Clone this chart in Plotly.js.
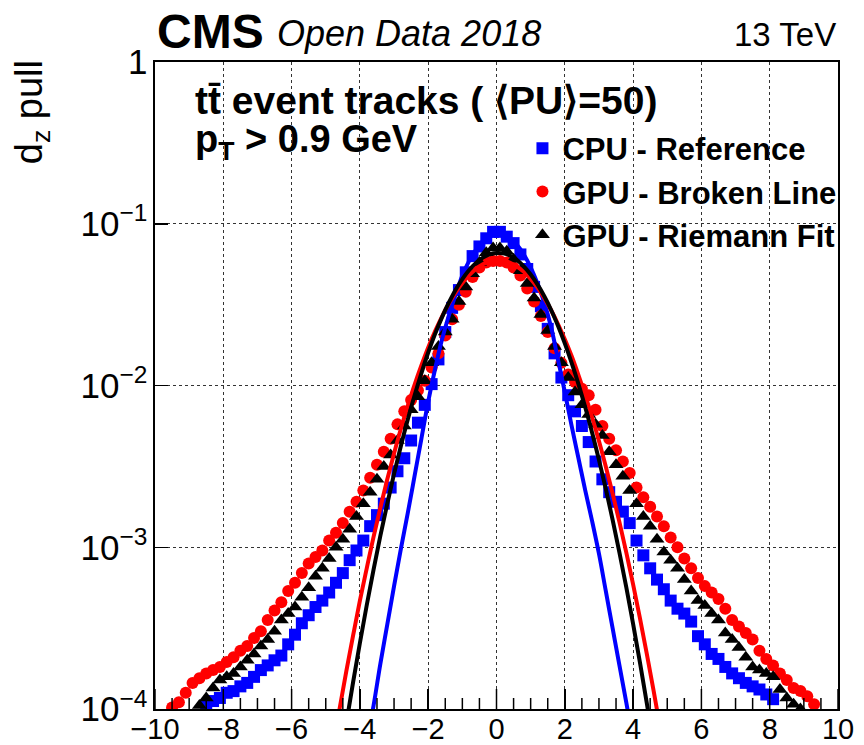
<!DOCTYPE html>
<html>
<head>
<meta charset="utf-8">
<script src="https://cdn.plot.ly/plotly-3.0.1.min.js"></script>
<style>html,body{margin:0;padding:0;background:#fff;}#chart{width:864px;height:745px;}</style>
</head>
<body>
<div id="chart"></div>
<script>
// Bin centres of the d_z pull histograms (width 0.2 from -10 to 10)
var binCenters = [-9.9,-9.7,-9.5,-9.3,-9.1,-8.9,-8.7,-8.5,-8.3,-8.1,-7.9,-7.7,-7.5,-7.3,-7.1,-6.9,-6.7,-6.5,-6.3,-6.1,
  -5.9,-5.7,-5.5,-5.3,-5.1,-4.9,-4.7,-4.5,-4.3,-4.1,-3.9,-3.7,-3.5,-3.3,-3.1,-2.9,-2.7,-2.5,-2.3,-2.1,
  -1.9,-1.7,-1.5,-1.3,-1.1,-0.9,-0.7,-0.5,-0.3,-0.1,0.1,0.3,0.5,0.7,0.9,1.1,1.3,1.5,1.7,1.9,
  2.1,2.3,2.5,2.7,2.9,3.1,3.3,3.5,3.7,3.9,4.1,4.3,4.5,4.7,4.9,5.1,5.3,5.5,5.7,5.9,
  6.1,6.3,6.5,6.7,6.9,7.1,7.3,7.5,7.7,7.9,8.1,8.3,8.5,8.7,8.9,9.1,9.3,9.5,9.7,9.9];

// CPU - Reference (blue squares)
var cpuReference = [null,null,null,null,null,null,null,1.05e-4,1.12e-4,1.17e-4,1.26e-4,1.29e-4,1.38e-4,1.45e-4,1.58e-4,1.74e-4,1.86e-4,2.00e-4,2.14e-4,2.51e-4,
  2.88e-4,3.39e-4,3.80e-4,4.27e-4,4.68e-4,5.25e-4,6.03e-4,6.92e-4,8.32e-4,9.55e-4,1.10e-3,1.35e-3,1.58e-3,1.86e-3,2.34e-3,2.95e-3,3.55e-3,4.57e-3,5.89e-3,7.59e-3,
  1.02e-2,1.45e-2,2.14e-2,3.02e-2,3.89e-2,5.01e-2,6.31e-2,7.24e-2,8.13e-2,8.91e-2,8.91e-2,8.32e-2,7.59e-2,6.46e-2,5.25e-2,4.07e-2,3.09e-2,2.24e-2,1.58e-2,1.12e-2,
  8.71e-3,6.92e-3,5.62e-3,4.47e-3,3.39e-3,2.63e-3,2.19e-3,1.91e-3,1.66e-3,1.41e-3,1.10e-3,8.91e-4,7.41e-4,6.31e-4,5.50e-4,4.68e-4,4.17e-4,3.89e-4,3.47e-4,2.82e-4,
  2.51e-4,2.19e-4,2.04e-4,1.82e-4,1.66e-4,1.55e-4,1.45e-4,1.38e-4,1.32e-4,1.23e-4,1.15e-4,null,null,null,null,null,null,null,null,null];

// GPU - Broken Line (red circles)
var gpuBrokenLine = [null,null,1.02e-4,1.10e-4,1.26e-4,1.45e-4,1.55e-4,1.66e-4,1.74e-4,1.82e-4,1.95e-4,2.09e-4,2.29e-4,2.45e-4,2.75e-4,3.02e-4,3.55e-4,4.07e-4,4.57e-4,5.37e-4,
  6.03e-4,6.92e-4,7.94e-4,8.71e-4,9.55e-4,1.10e-3,1.23e-3,1.41e-3,1.66e-3,1.91e-3,2.24e-3,2.69e-3,3.24e-3,3.89e-3,4.68e-3,5.75e-3,6.92e-3,8.13e-3,9.33e-3,1.07e-2,
  1.29e-2,1.58e-2,2.04e-2,2.57e-2,3.16e-2,3.80e-2,4.68e-2,5.37e-2,5.75e-2,5.89e-2,5.89e-2,5.75e-2,5.37e-2,4.79e-2,3.98e-2,3.31e-2,2.69e-2,2.14e-2,1.70e-2,1.38e-2,
  1.17e-2,1.05e-2,9.55e-3,8.71e-3,7.08e-3,5.62e-3,4.68e-3,3.98e-3,3.39e-3,2.88e-3,2.34e-3,2.04e-3,1.78e-3,1.55e-3,1.35e-3,1.15e-3,1.00e-3,8.51e-4,7.41e-4,6.46e-4,
  5.75e-4,5.25e-4,4.79e-4,4.17e-4,3.55e-4,3.24e-4,2.95e-4,2.69e-4,2.29e-4,2.04e-4,1.86e-4,1.66e-4,1.51e-4,1.35e-4,1.29e-4,1.20e-4,1.07e-4,null,null,null];

// GPU - Riemann Fit (black triangles)
var gpuRiemannFit = [null,null,null,null,null,null,1.05e-4,1.17e-4,1.35e-4,1.51e-4,1.58e-4,1.66e-4,1.82e-4,2.00e-4,2.19e-4,2.45e-4,2.69e-4,3.02e-4,3.55e-4,3.89e-4,
  4.27e-4,4.90e-4,5.62e-4,6.61e-4,7.41e-4,8.51e-4,1.00e-3,1.12e-3,1.29e-3,1.55e-3,1.86e-3,2.19e-3,2.63e-3,3.16e-3,3.72e-3,4.57e-3,5.62e-3,7.08e-3,8.51e-3,1.07e-2,
  1.38e-2,1.74e-2,2.14e-2,2.57e-2,3.31e-2,4.07e-2,4.90e-2,5.75e-2,6.61e-2,7.08e-2,7.08e-2,6.76e-2,6.03e-2,5.13e-2,4.27e-2,3.47e-2,2.75e-2,2.19e-2,1.74e-2,1.38e-2,
  1.12e-2,9.12e-3,7.59e-3,6.61e-3,5.75e-3,4.90e-3,3.89e-3,3.24e-3,2.75e-3,2.24e-3,1.86e-3,1.55e-3,1.35e-3,1.12e-3,9.33e-4,8.32e-4,7.41e-4,6.31e-4,5.37e-4,4.68e-4,
  4.37e-4,3.89e-4,3.55e-4,2.95e-4,2.69e-4,2.40e-4,2.09e-4,1.82e-4,1.74e-4,1.66e-4,1.58e-4,1.32e-4,1.17e-4,1.07e-4,1.00e-4,null,null,null,null,null];

// Fitted curves
var cpuFitX = [-4.0,-3.8,-3.6,-3.4,-3.2,-3.0,-2.8,-2.6,-2.4,-2.2,-2.0,-1.8,-1.6,-1.4,-1.2,-1.0,-0.8,-0.6,-0.4,-0.2,0,
  0.2,0.4,0.6,0.8,1.0,1.2,1.4,1.6,1.8,2.0,2.2,2.4,2.6,2.8,3.0,3.2,3.4,3.6,3.8,4.0];
var cpuFitY = [3.16e-5,6.31e-5,1.05e-4,1.91e-4,3.31e-4,5.75e-4,9.77e-4,1.62e-3,2.75e-3,4.68e-3,7.94e-3,1.26e-2,1.91e-2,2.69e-2,3.63e-2,4.79e-2,5.89e-2,6.92e-2,7.76e-2,8.32e-2,8.51e-2,
  8.51e-2,8.13e-2,7.41e-2,6.46e-2,5.37e-2,4.27e-2,3.24e-2,2.29e-2,1.45e-2,9.12e-3,5.62e-3,3.55e-3,2.24e-3,1.45e-3,9.12e-4,5.37e-4,3.16e-4,1.86e-4,1.10e-4,6.31e-5];

var gpuFitX = [-4.8,-4.6,-4.4,-4.2,-4.0,-3.8,-3.6,-3.4,-3.2,-3.0,-2.8,-2.6,-2.4,-2.2,-2.0,-1.8,-1.6,-1.4,-1.2,-1.0,-0.8,-0.6,-0.4,-0.2,0,
  0.2,0.4,0.6,0.8,1.0,1.2,1.4,1.6,1.8,2.0,2.2,2.4,2.6,2.8,3.0,3.2,3.4,3.6,3.8,4.0,4.2,4.4,4.6,4.8];
var brokenLineFitY = [5.6e-5,9.9e-5,1.70e-4,2.84e-4,4.68e-4,7.41e-4,1.16e-3,1.76e-3,2.62e-3,3.80e-3,5.40e-3,7.46e-3,1.01e-2,1.33e-2,1.72e-2,2.16e-2,2.66e-2,3.20e-2,3.75e-2,4.30e-2,4.81e-2,5.26e-2,5.61e-2,5.85e-2,5.96e-2,
  5.92e-2,5.74e-2,5.44e-2,5.04e-2,4.56e-2,4.03e-2,3.47e-2,2.92e-2,2.40e-2,1.93e-2,1.52e-2,1.16e-2,8.69e-3,6.35e-3,4.54e-3,3.16e-3,2.15e-3,1.43e-3,9.29e-4,5.89e-4,3.65e-4,2.20e-4,1.30e-4,7.5e-5];
var riemannFitY = [2.2e-5,4.4e-5,8.1e-5,1.46e-4,2.56e-4,4.38e-4,7.28e-4,1.18e-3,1.85e-3,2.84e-3,4.23e-3,6.14e-3,8.67e-3,1.19e-2,1.60e-2,2.08e-2,2.63e-2,3.24e-2,3.90e-2,4.55e-2,5.18e-2,5.73e-2,6.17e-2,6.47e-2,6.60e-2,
  6.56e-2,6.34e-2,5.97e-2,5.46e-2,4.86e-2,4.22e-2,3.56e-2,2.93e-2,2.34e-2,1.82e-2,1.38e-2,1.02e-2,7.31e-3,5.11e-3,3.47e-3,2.30e-3,1.48e-3,9.27e-4,5.66e-4,3.36e-4,1.94e-4,1.09e-4,6.0e-5,3.2e-5];

var seriesNames = ['<b>CPU - Reference</b>', '<b>GPU - Broken Line</b>', '<b>GPU - Riemann Fit</b>'];

var FONT = 'Liberation Sans, Arial, Helvetica, sans-serif';

var traces = [
  {x: binCenters, y: cpuReference, type: 'scatter', mode: 'markers', name: seriesNames[0], legendgroup: 'a',
   marker: {symbol: 'square', size: 12, color: '#0000ff'}},
  {x: binCenters, y: gpuBrokenLine, type: 'scatter', mode: 'markers', name: seriesNames[1], legendgroup: 'b',
   marker: {symbol: 'circle', size: 12, color: '#ff0000'}},
  {x: binCenters, y: gpuRiemannFit, type: 'scatter', mode: 'markers', name: seriesNames[2], legendgroup: 'c',
   marker: {symbol: 'triangle-up', size: 13, color: '#000000'}},
  {x: cpuFitX, y: cpuFitY, type: 'scatter', mode: 'lines', showlegend: false,
   line: {color: '#0000ff', width: 4, shape: 'spline'}},
  {x: gpuFitX, y: brokenLineFitY, type: 'scatter', mode: 'lines', showlegend: false,
   line: {color: '#ff0000', width: 4, shape: 'spline'}},
  {x: gpuFitX, y: riemannFitY, type: 'scatter', mode: 'lines', showlegend: false,
   line: {color: '#000000', width: 4, shape: 'spline'}}
];

// Axis tick marks (ROOT style, inside the frame): drawn as shapes anchored to the axes
var PLOT_W = 864 - 155 - 26, PLOT_H = 745 - 62 - 36;
var xMajorTicks = [-10, -8, -6, -4, -2, 0, 2, 4, 6, 8, 10];
var yDecades = [-4, -3, -2, -1, 0];
var tickShapes = [];
function tickLine(xref, yref, x0, x1, y0, y1) {
  return {type: 'line', xref: xref, yref: yref, x0: x0, x1: x1, y0: y0, y1: y1, layer: 'above',
          line: {color: '#000000', width: 1.5}};
}
for (var xv = -20; xv <= 20; xv++) {
  var xt = xv / 2;
  var isMajor = xMajorTicks.indexOf(xt) !== -1;
  tickShapes.push(tickLine('x', 'paper', xt, xt, 0, (isMajor ? 20 : 11) / PLOT_H));
}
yDecades.forEach(function (d) {
  tickShapes.push(tickLine('paper', 'y', 0, 13 / PLOT_W, d, d));
  if (d < 0) {
    for (var m = 2; m <= 9; m++) {
      var lv = d + Math.log10(m);
      tickShapes.push(tickLine('paper', 'y', 0, 8 / PLOT_W, lv, lv));
    }
  }
});

var layout = {
  width: 864, height: 745,
  margin: {l: 155, r: 26, t: 62, b: 36},
  paper_bgcolor: '#ffffff', plot_bgcolor: '#ffffff',
  font: {family: FONT, color: '#000000'},
  showlegend: true,
  legend: {x: 0.538, y: 0.908, xanchor: 'left', yanchor: 'top', bgcolor: 'rgba(0,0,0,0)',
           font: {family: FONT, size: 31, color: '#000000'}, tracegroupgap: 0, traceorder: 'grouped'},
  xaxis: {
    range: [-10, 10], tick0: 0, dtick: 2, ticks: 'inside', ticklen: 20, tickwidth: 1.5, tickcolor: '#000000',
    showline: true, linewidth: 2, linecolor: '#000000', mirror: true, zeroline: false,
    showgrid: true, gridcolor: '#333333', gridwidth: 1, griddash: 'dot',
    ticklabelstandoff: -7,
    tickfont: {family: FONT, size: 29, color: '#000000'}
  },
  yaxis: {
    type: 'log', range: [-4, 0], dtick: 1, exponentformat: 'power',
    ticks: 'inside', ticklen: 13, tickwidth: 1.5, tickcolor: '#000000',
    showline: true, linewidth: 2, linecolor: '#000000', mirror: true, zeroline: false,
    showgrid: true, gridcolor: '#333333', gridwidth: 1, griddash: 'dot',
    tickfont: {family: FONT, size: 28, color: '#000000'}
  },
  shapes: tickShapes,
  annotations: [
    {text: '<b>CMS</b>', xref: 'paper', yref: 'paper', x: 0, y: 1.003, xanchor: 'left', yanchor: 'bottom',
     showarrow: false, font: {family: FONT, size: 48, color: '#000'}},
    {text: '<i>Open Data 2018</i>', xref: 'paper', yref: 'paper', x: 0.1757, y: 1.009, xanchor: 'left', yanchor: 'bottom',
     showarrow: false, font: {family: FONT, size: 36, color: '#000'}},
    {text: '13 TeV', xref: 'paper', yref: 'paper', x: 1, y: 1.011, xanchor: 'right', yanchor: 'bottom',
     showarrow: false, font: {family: FONT, size: 33, color: '#000'}},
    {text: '<b>tt\u0304 event tracks ( \u27E8PU\u27E9=50)</b>', xref: 'paper', yref: 'paper', x: 0.0556, y: 0.977,
     xanchor: 'left', yanchor: 'top', showarrow: false, font: {family: FONT, size: 39, color: '#000'}},
    {text: '<b>p<sub>T</sub> &gt; 0.9 GeV</b>', xref: 'paper', yref: 'paper', x: 0.0556, y: 0.9165,
     xanchor: 'left', yanchor: 'top', showarrow: false, font: {family: FONT, size: 38, color: '#000'}},
    {text: 'd<sub>z</sub> pull', xref: 'paper', yref: 'paper', x: -0.18, y: 1.006, xanchor: 'center', yanchor: 'top',
     textangle: -90, showarrow: false, font: {family: FONT, size: 38, color: '#000'}}
  ]
};

Plotly.newPlot('chart', traces, layout, {displayModeBar: false, staticPlot: true});
</script>
</body>
</html>
